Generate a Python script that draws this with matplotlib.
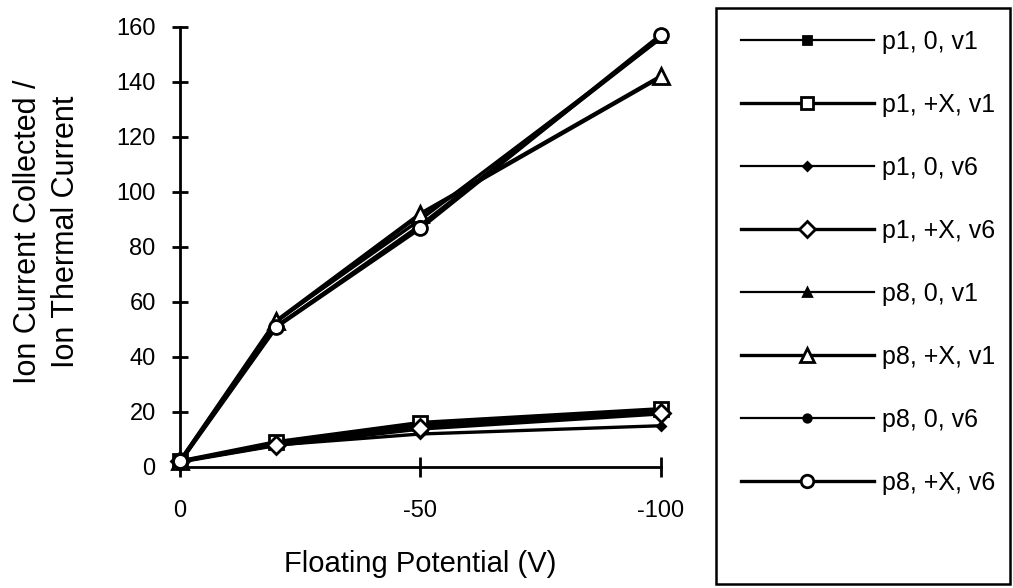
import numpy as np
import matplotlib.pyplot as plt
from matplotlib.patches import Rectangle

plt.rcParams['font.family'] = ['Liberation Sans', 'DejaVu Sans']

# potentials (V)
potential = [0, -20, -50, -100]

# ion current collected / ion thermal current
labels = ['p1, 0, v1', 'p1, +X, v1', 'p1, 0, v6', 'p1, +X, v6',
          'p8, 0, v1', 'p8, +X, v1', 'p8, 0, v6', 'p8, +X, v6']
p1_0_v1 = [2, 8, 15, 20]
p1_x_v1 = [2, 9, 16, 21]
p1_0_v6 = [2, 8, 12, 15]
p1_x_v6 = [2, 8, 14, 19.5]
p8_0_v1 = [2, 53, 90, 156]
p8_x_v1 = [2, 53, 92, 142]
p8_0_v6 = [2, 51, 88, 156]
p8_x_v6 = [2, 51, 87, 157]
series = [p1_0_v1, p1_x_v1, p1_0_v6, p1_x_v6, p8_0_v1, p8_x_v1, p8_0_v6, p8_x_v6]

# marker, size, filled, line width
styles = [('s', 6, True, 1.6), ('s', 10, False, 2.4),
          ('D', 4, True, 1.6), ('D', 9, False, 2.4),
          ('^', 6, True, 1.6), ('^', 11, False, 2.4),
          ('o', 6, True, 1.6), ('o', 10, False, 2.4)]

fig = plt.figure(figsize=(10.13, 5.88), dpi=100)
ax = fig.add_axes([0.1777, 0.2058, 0.4748, 0.7483])

for vals, lab, (m, ms, filled, lw) in zip(series, labels, styles):
    ax.plot(potential, vals, color='black', lw=lw + 0.8, marker=m, ms=ms,
            markerfacecolor='black' if filled else 'white',
            markeredgecolor='black', markeredgewidth=2, label=lab,
            clip_on=False, zorder=3)

ax.set_xlim(0, -100)
ax.set_ylim(0, 160)
ax.set_xticks([0, -50, -100])
ax.set_xticklabels(['0', '-50', '-100'])
ax.set_yticks(np.arange(0, 161, 20))
for s in ['top', 'right']:
    ax.spines[s].set_visible(False)
for s in ['left', 'bottom']:
    ax.spines[s].set_linewidth(2)
ax.tick_params(direction='inout', width=2, labelsize=17)
ax.tick_params(axis='x', length=14, pad=17)
ax.tick_params(axis='y', length=11, pad=12)

ax.set_xlabel('Floating Potential (V)', fontsize=21, labelpad=20)
fig.text(47 / 1013, 1 - 232 / 588, 'Ion Current Collected /\nIon Thermal Current',
         rotation=90, ha='center', va='center', multialignment='center',
         fontsize=22, linespacing=1.35)

# legend
leg_handles = []
for (m, ms, filled, lw) in styles:
    h, = ax.plot([], [], color='black', lw=lw, marker=m, ms=ms * 0.9,
                 markerfacecolor='black' if filled else 'white',
                 markeredgecolor='black', markeredgewidth=2)
    leg_handles.append(h)
fig.legend(leg_handles, labels, loc='upper left',
           bbox_to_anchor=(741 / 1013, 1 - 30 / 588), fontsize=18,
           handlelength=5.3, handletextpad=0.35, labelspacing=1.56,
           borderpad=0, borderaxespad=0, frameon=False)
fig.patches.append(Rectangle((716 / 1013, 1 - 584 / 588), 294 / 1013, 576 / 588,
                             transform=fig.transFigure, fill=False,
                             edgecolor='black', lw=1.8))

fig.savefig('out.png', dpi=100)
